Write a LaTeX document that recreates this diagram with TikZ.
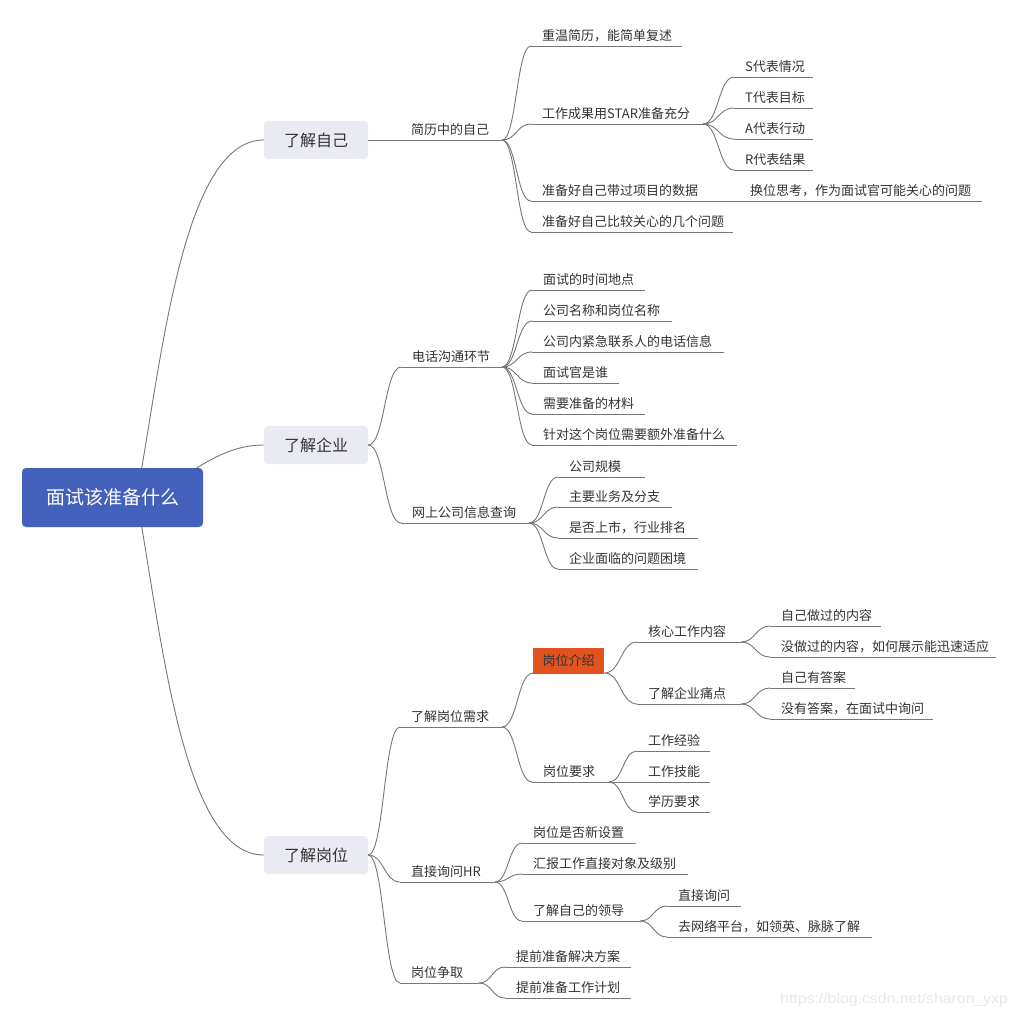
\documentclass[tikz,border=0pt]{standalone}
\usepackage{fontspec}
\setmainfont{Noto Sans CJK SC}
\newfontfamily\wmfont{Liberation Sans}
\usetikzlibrary{calc}
\definecolor{rootblue}{HTML}{4361BB}
\definecolor{topicbg}{HTML}{E9EAF2}
\definecolor{linegray}{HTML}{777777}
\definecolor{txt}{HTML}{333333}
\definecolor{hl}{HTML}{E2531F}
\definecolor{wm}{HTML}{E8E8E8}
\newcommand\mmitem[5]{%
  \node[item] (#1) at (#2,#4) {#5};
  \coordinate (#1e) at (#3,#4);
  \draw[conn] (#1.south west) -- (#1e);}
\begin{document}
\begin{tikzpicture}[x=1pt,y=-1pt,
  conn/.style={draw=linegray, line width=0.9pt},
  scurve/.style={to path={let \p1=(\tikztostart), \p2=(\tikztotarget) in
     .. controls ({0.5*\x1+0.5*\x2},{\y1}) and ({0.5*\x1+0.5*\x2},{\y2}) .. (\tikztotarget)}},
  rootnode/.style={fill=rootblue, rounded corners=4pt, text=white,
     font=\fontsize{19}{23}\selectfont, minimum width=181pt, minimum height=59pt, inner sep=0pt},
  topic/.style={fill=topicbg, rounded corners=4pt, text=txt,
     font=\fontsize{16}{19}\selectfont, minimum width=104pt, minimum height=38pt, inner sep=0pt},
  item/.style={anchor=south west, text=txt, font=\fontsize{13}{16}\selectfont,
     inner xsep=11pt, inner ysep=5pt, text depth=0pt, text height=10pt},
  hlbox/.style={fill=hl, text=txt, font=\fontsize{13}{16}\selectfont,
     minimum width=71pt, minimum height=25pt, inner sep=0pt, anchor=south west},
  wmark/.style={font=\wmfont\fontsize{14}{16}\selectfont, text=wm, anchor=base west,
     inner sep=0pt, xscale=1.13}
]
\fill[white] (0,0) rectangle (1016,1019);
\useasboundingbox (0,0) rectangle (1016,1019);

% root and main topics
\node[rootnode] (root) at (112.5,497.5) {面试该准备什么};
\node[topic] (t1) at (316,140) {了解自己};
\node[topic] (t2) at (316,445) {了解企业};
\node[topic] (t3) at (316,855) {了解岗位};

\draw[conn] ([xshift=120pt]root.north west) .. controls (165,330) and (188,140) .. (t1.west);
\draw[conn] ([xshift=175pt]root.north west) .. controls (218,455) and (238,445) .. (t2.west);
\draw[conn] ([xshift=120pt]root.south west) .. controls (165,666) and (188,855) .. (t3.west);

% ---- 了解自己
\mmitem{a1}{400}{502}{140}{简历中的自己}
\mmitem{b1}{531}{682}{46}{重温简历，能简单复述}
\mmitem{b2}{531}{703}{124}{工作成果用STAR准备充分}
\mmitem{b3}{531}{739}{201}{准备好自己带过项目的数据}
\mmitem{b4}{531}{733}{232}{准备好自己比较关心的几个问题}
\mmitem{s1}{734}{813}{77}{S代表情况}
\mmitem{s2}{734}{813}{108}{T代表目标}
\mmitem{s3}{734}{813}{139}{A代表行动}
\mmitem{s4}{734}{813}{170}{R代表结果}
\mmitem{b5}{739}{982}{201}{换位思考，作为面试官可能关心的问题}

\draw[conn] (t1.east) -- (a1.south west);
\foreach \c in {b1,b2,b3,b4} \draw[conn] (a1e) to[scurve] (\c.south west);
\foreach \c in {s1,s2,s3,s4} \draw[conn] (b2e) to[scurve] (\c.south west);
\draw[conn] (b3e) -- (b5.south west);

% ---- 了解企业
\mmitem{c1}{401}{502}{367}{电话沟通环节}
\mmitem{c2}{401}{529}{523}{网上公司信息查询}
\mmitem{c11}{532}{645}{290}{面试的时间地点}
\mmitem{c12}{532}{672}{321}{公司名称和岗位名称}
\mmitem{c13}{532}{724}{352}{公司内紧急联系人的电话信息}
\mmitem{c14}{532}{619}{383}{面试官是谁}
\mmitem{c15}{532}{645}{414}{需要准备的材料}
\mmitem{c16}{532}{737}{445}{针对这个岗位需要额外准备什么}
\mmitem{c21}{558}{645}{477}{公司规模}
\mmitem{c22}{558}{672}{507}{主要业务及分支}
\mmitem{c23}{558}{698}{538}{是否上市，行业排名}
\mmitem{c24}{558}{698}{569}{企业面临的问题困境}

\foreach \c in {c1,c2} \draw[conn] (t2.east) to[scurve] (\c.south west);
\foreach \c in {c11,c12,c13,c14,c15,c16} \draw[conn] (c1e) to[scurve] (\c.south west);
\foreach \c in {c21,c22,c23,c24} \draw[conn] (c2e) to[scurve] (\c.south west);

% ---- 了解岗位
\mmitem{d1}{400}{502}{727}{了解岗位需求}
\mmitem{d2}{400}{495}{882}{直接询问HR}
\mmitem{d3}{400}{479}{983}{岗位争取}
\node[hlbox] (e1) at (533,673) {岗位介绍};
\draw[conn] (e1.south west) -- (e1.south east);
\mmitem{e2}{532}{609}{782}{岗位要求}
\mmitem{f1}{637}{741}{642}{核心工作内容}
\mmitem{f2}{637}{741}{704}{了解企业痛点}
\mmitem{f11}{770}{881}{626}{自己做过的内容}
\mmitem{f12}{770}{996}{657}{没做过的内容，如何展示能迅速适应}
\mmitem{f21}{770}{855}{688}{自己有答案}
\mmitem{f22}{770}{933}{719}{没有答案，在面试中询问}
\mmitem{g1}{637}{710}{751}{工作经验}
\mmitem{g2}{637}{710}{782}{工作技能}
\mmitem{g3}{637}{710}{812}{学历要求}
\mmitem{h1}{522}{636}{843}{岗位是否新设置}
\mmitem{h2}{522}{688}{874}{汇报工作直接对象及级别}
\mmitem{h3}{522}{640}{921}{了解自己的领导}
\mmitem{h31}{667}{741}{906}{直接询问}
\mmitem{h32}{667}{872}{937}{去网络平台，如领英、脉脉了解}
\mmitem{k1}{505}{631}{967}{提前准备解决方案}
\mmitem{k2}{505}{631}{998}{提前准备工作计划}

\foreach \c in {d1,d2,d3} \draw[conn] (t3.east) to[scurve] (\c.south west);
\foreach \c in {e1,e2} \draw[conn] (d1e) to[scurve] (\c.south west);
\foreach \c in {f1,f2} \draw[conn] (e1.south east) to[scurve] (\c.south west);
\foreach \c in {f11,f12} \draw[conn] (f1e) to[scurve] (\c.south west);
\foreach \c in {f21,f22} \draw[conn] (f2e) to[scurve] (\c.south west);
\foreach \c in {g1,g2,g3} \draw[conn] (e2e) to[scurve] (\c.south west);
\foreach \c in {h1,h2,h3} \draw[conn] (d2e) to[scurve] (\c.south west);
\foreach \c in {h31,h32} \draw[conn] (h3e) to[scurve] (\c.south west);
\foreach \c in {k1,k2} \draw[conn] (d3e) to[scurve] (\c.south west);

% watermark
\node[wmark] (wmk) at (780,1003) {https://blog.csdn.net/sharon\_yxp};
\end{tikzpicture}
\end{document}
